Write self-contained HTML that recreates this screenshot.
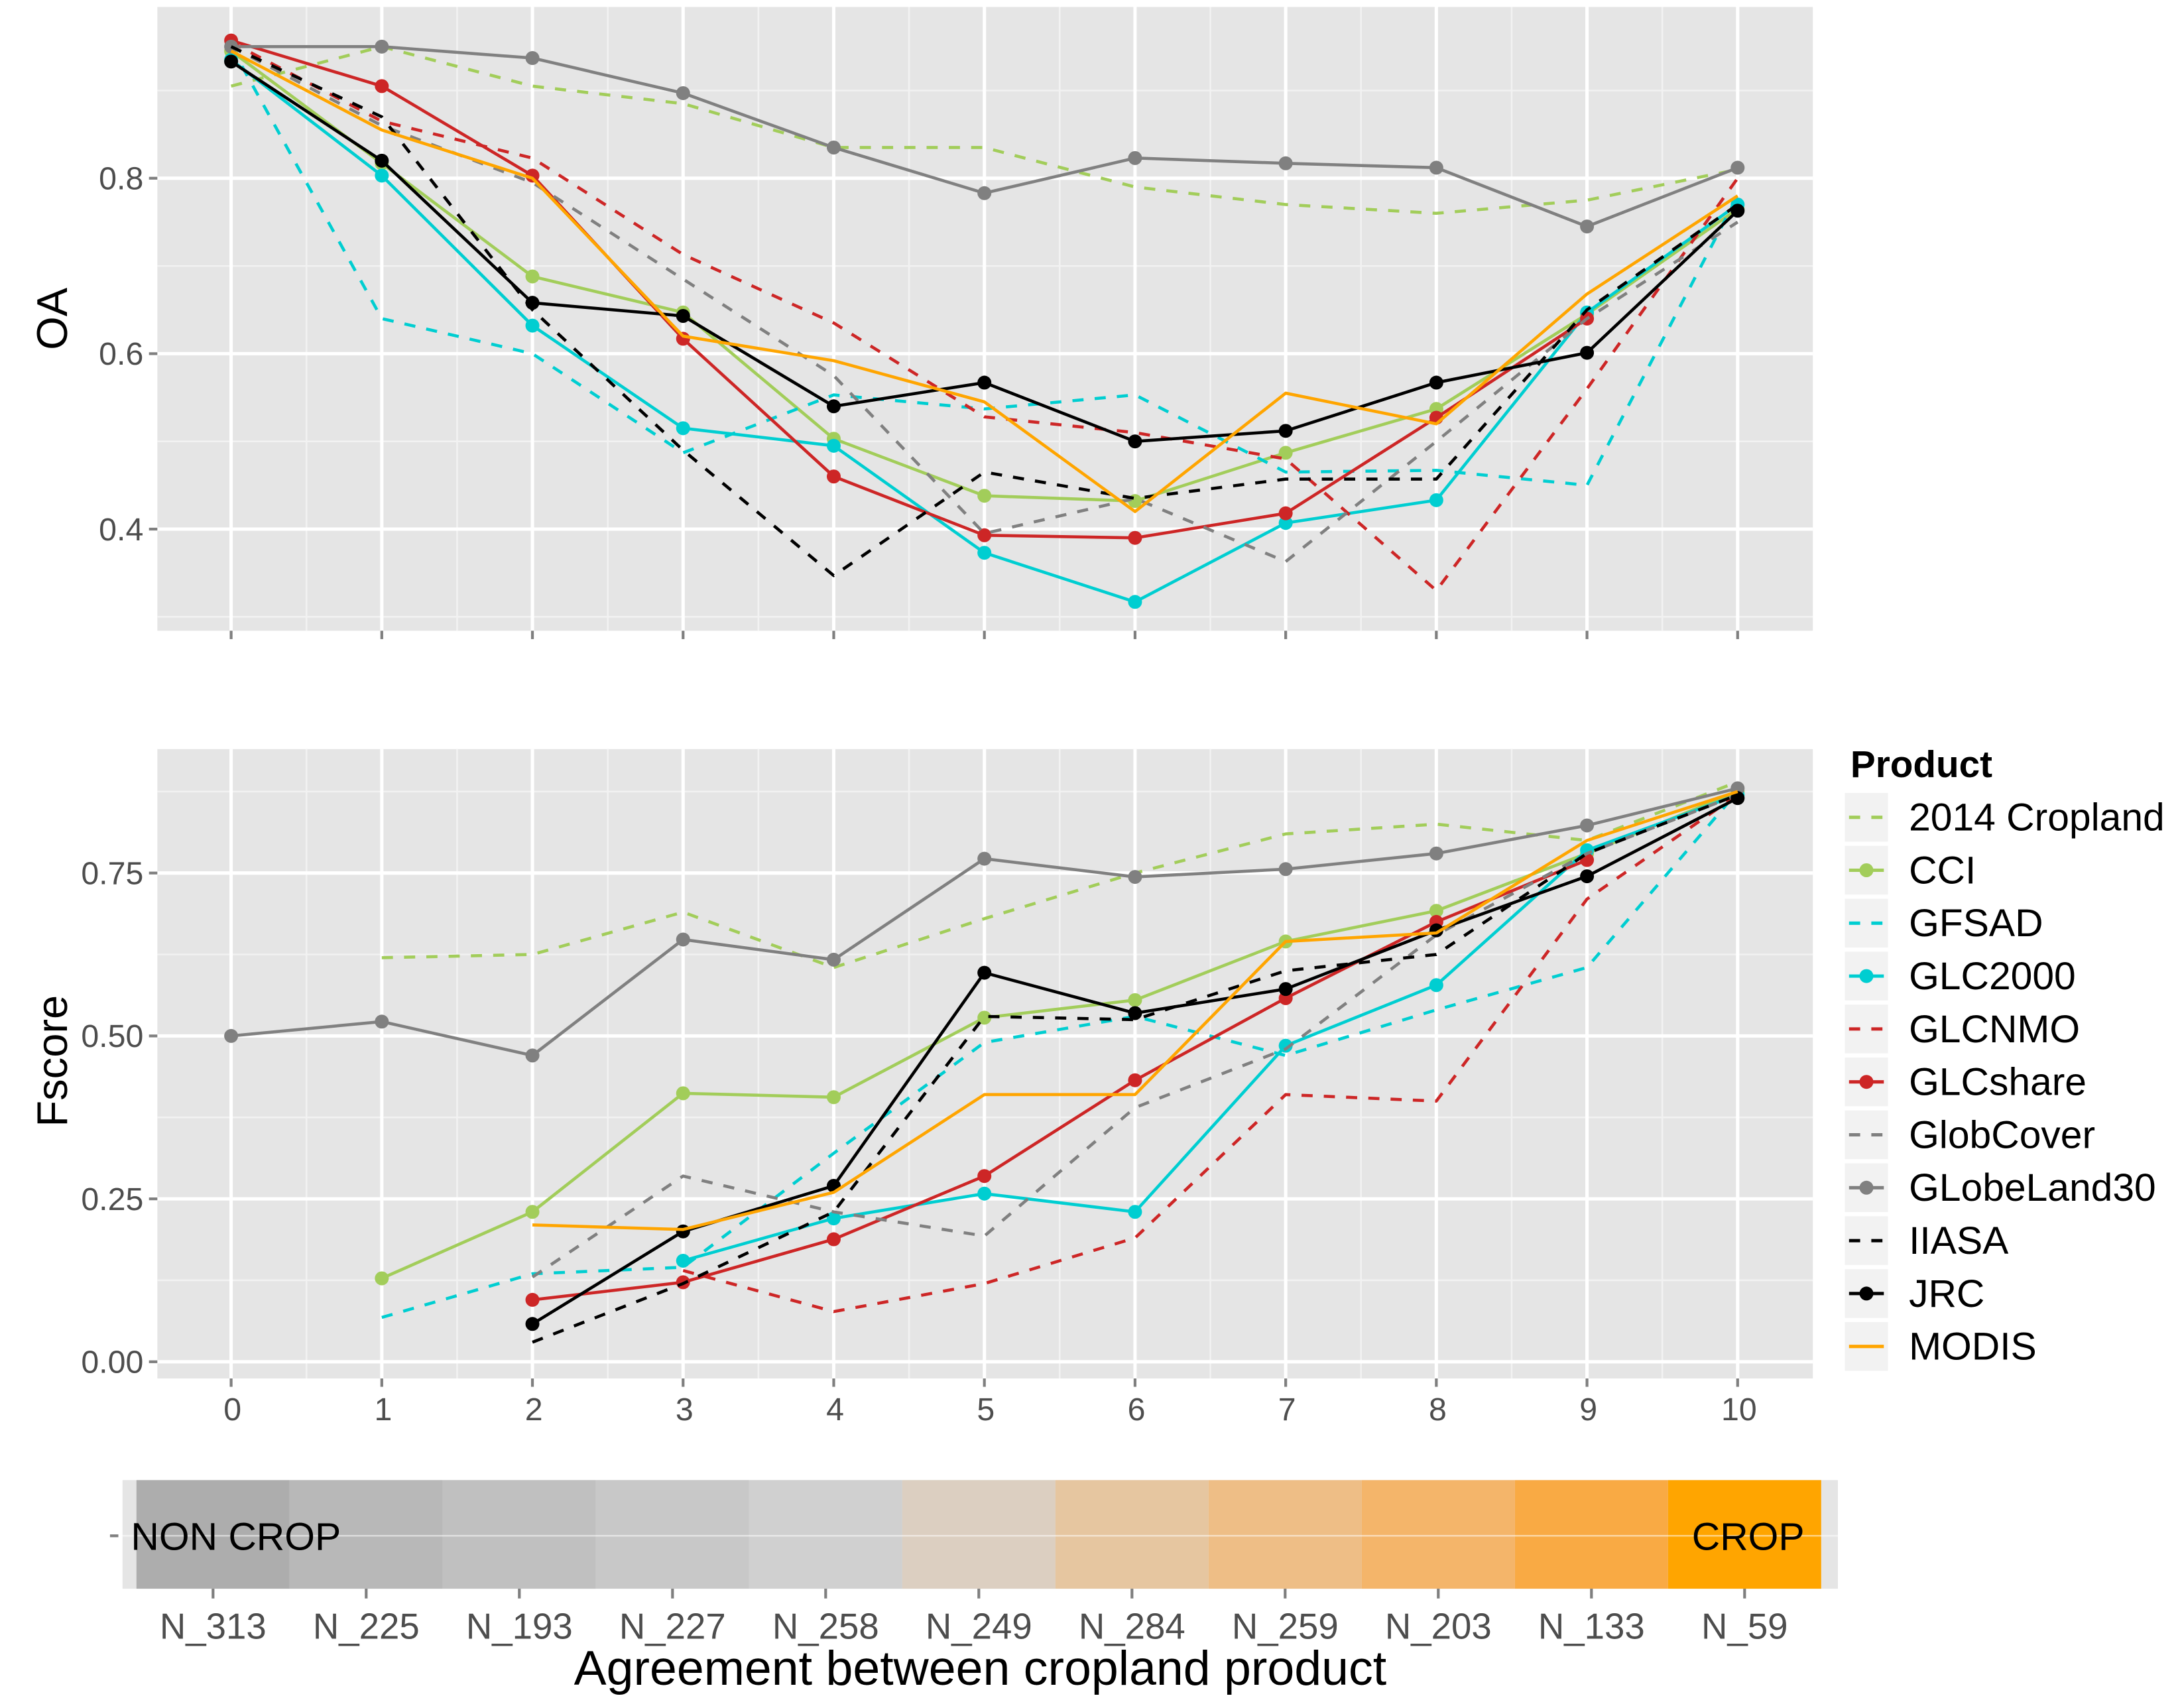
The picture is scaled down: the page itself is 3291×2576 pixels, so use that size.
<!DOCTYPE html>
<html><head><meta charset="utf-8"><style>
html,body{margin:0;padding:0;background:#fff}
svg{display:block}
text{font-family:"Liberation Sans",Arial,sans-serif}
</style></head><body>
<svg id="chart" width="3291" height="2576" viewBox="0 0 1567.14 1226.67" xmlns="http://www.w3.org/2000/svg">
<g id="root"></g>
</svg>
<script>
const xCats=[0,1,2,3,4,5,6,7,8,9,10];
const products=["2014 Cropland","CCI","GFSAD","GLC2000","GLCNMO","GLCshare","GlobCover","GLobeLand30","IIASA","JRC","MODIS"];
const colors=["#A2CD5A","#A2CD5A","#00CED1","#00CED1","#CD2626","#CD2626","#808080","#808080","#000000","#000000","#FFA500"];
const dashed=[true,false,true,false,true,false,true,false,true,false,false];
const hasPoints=[false,true,false,true,false,true,false,true,false,true,false];
const oa2014=[0.905,0.95,0.905,0.885,0.835,0.835,0.79,0.77,0.76,0.775,0.81];
const oaCCI=[0.945,0.817,0.688,0.647,0.503,0.438,0.432,0.487,0.537,0.645,0.765];
const oaGFSAD=[0.95,0.64,0.6,0.487,0.553,0.537,0.553,0.465,0.467,0.45,0.78];
const oaGLC2000=[0.935,0.803,0.632,0.515,0.495,0.373,0.317,0.407,0.433,0.647,0.77];
const oaGLCNMO=[0.955,0.865,0.823,0.713,0.635,0.528,0.51,0.48,0.33,0.56,0.8];
const oaGLCshare=[0.957,0.905,0.803,0.617,0.46,0.393,0.39,0.418,0.527,0.64,null];
const oaGlobCover=[0.95,0.86,0.795,0.685,0.575,0.395,0.435,0.363,0.5,0.64,0.75];
const oaGLobeLand30=[0.95,0.95,0.937,0.897,0.835,0.783,0.823,0.817,0.812,0.745,0.812];
const oaIIASA=[0.95,0.87,0.65,0.49,0.347,0.465,0.435,0.457,0.457,0.65,0.77];
const oaJRC=[0.933,0.82,0.658,0.643,0.54,0.567,0.5,0.512,0.567,0.601,0.763];
const oaMODIS=[0.945,0.855,0.8,0.62,0.592,0.545,0.42,0.555,0.52,0.668,0.78];
const fs2014=[null,0.62,0.625,0.69,0.605,0.68,0.75,0.81,0.825,0.8,0.89];
const fsCCI=[null,0.128,0.23,0.412,0.406,0.528,0.555,0.645,0.692,0.78,0.875];
const fsGFSAD=[null,0.068,0.135,0.145,0.32,0.49,0.53,0.47,0.54,0.605,0.875];
const fsGLC2000=[null,null,null,0.155,0.22,0.258,0.23,0.485,0.578,0.785,0.87];
const fsGLCNMO=[null,null,null,0.14,0.077,0.12,0.19,0.41,0.4,0.71,0.87];
const fsGLCshare=[null,null,0.095,0.122,0.188,0.285,0.432,0.558,0.675,0.77,null];
const fsGlobCover=[null,null,0.13,0.285,0.23,0.193,0.39,0.48,0.655,0.78,0.87];
const fsGLobeLand30=[0.5,0.522,0.47,0.648,0.617,0.772,0.744,0.756,0.78,0.823,0.88];
const fsIIASA=[null,null,0.03,0.12,0.23,0.53,0.525,0.6,0.625,0.78,0.87];
const fsJRC=[null,null,0.058,0.2,0.27,0.597,0.535,0.572,0.662,0.745,0.865];
const fsMODIS=[null,null,0.21,0.203,0.26,0.41,0.41,0.645,0.658,0.8,0.875];
const oaTicks=[0.4,0.6,0.8];
const oaTickLabels=["0.4","0.6","0.8"];
const fsTicks=[0,0.25,0.5,0.75];
const fsTickLabels=["0.00","0.25","0.50","0.75"];
const nLabels=["N_313","N_225","N_193","N_227","N_258","N_249","N_284","N_259","N_203","N_133","N_59"];
const tileColors=["#ADADAD","#B8B8B8","#C0C0C0","#C8C8C8","#D0D0D0","#DCCFC1","#E6C6A0","#EEBE86","#F4B56A","#F9AA44","#FFA500"];

const oaSeries=[oa2014,oaCCI,oaGFSAD,oaGLC2000,oaGLCNMO,oaGLCshare,oaGlobCover,oaGLobeLand30,oaIIASA,oaJRC,oaMODIS];
const fsSeries=[fs2014,fsCCI,fsGFSAD,fsGLC2000,fsGLCNMO,fsGLCshare,fsGlobCover,fsGLobeLand30,fsIIASA,fsJRC,fsMODIS];

const NS="http://www.w3.org/2000/svg";
const root=document.getElementById('root');
function mk(tag,attrs,parent,txt){const e=document.createElementNS(NS,tag);for(const k in attrs)e.setAttribute(k,attrs[k]);if(txt!==undefined)e.textContent=txt;(parent||root).appendChild(e);return e;}
const xs=v=>166+v*108.2;
const yOA=v=>128-(v-0.8)*630;
const yFS=v=>978-v*468;

function panel(name,top,bot,ys,ticks,labels,minor,series){
  const g=mk('g',{});
  
  
  mk('rect',{x:113,y:top,width:1189,height:bot-top,fill:'#E5E5E5'},g);
  minor.forEach(v=>mk('line',{x1:113,x2:1302,y1:ys(v),y2:ys(v),stroke:'#F2F2F2','stroke-width':1.2},g));
  for(let i=0;i<10;i++){const xm=xs(i+0.5);mk('line',{x1:xm,x2:xm,y1:top,y2:bot,stroke:'#F2F2F2','stroke-width':1.2},g);}
  ticks.forEach((v,i)=>{
    mk('line',{x1:113,x2:1302,y1:ys(v),y2:ys(v),stroke:'#fff','stroke-width':2.4},g);
    mk('line',{x1:107,x2:113,y1:ys(v),y2:ys(v),stroke:'#7f7f7f','stroke-width':2},g);
    const t=mk('text',{x:103,y:ys(v)+8,'text-anchor':'end','font-size':23,fill:'#4D4D4D'},g,labels[i]);
    
    
  });
  xCats.forEach(c=>{
    mk('line',{x1:xs(c),x2:xs(c),y1:top,y2:bot,stroke:'#fff','stroke-width':2.4},g);
    mk('line',{x1:xs(c),x2:xs(c),y1:bot,y2:bot+6,stroke:'#7f7f7f','stroke-width':2},g);
  });
  series.forEach((s,k)=>{
    const sg=mk('g',{},g);
    
    
    let d='';let pen=false;
    s.forEach((v,i)=>{if(v===null){pen=false;return;}d+=(pen?'L':'M')+xs(xCats[i])+','+ys(v);pen=true;});
    const p=mk('path',{d:d,fill:'none',stroke:colors[k],'stroke-width':2.2,'stroke-linejoin':'round'},sg);
    if(dashed[k])p.setAttribute('stroke-dasharray','8,8');
    if(hasPoints[k]) s.forEach((v,i)=>{if(v!==null){const c=mk('circle',{cx:xs(xCats[i]),cy:ys(v),r:5,fill:colors[k]},sg);
      
      }});
  });
}
panel('oa',5,453,yOA,oaTicks,oaTickLabels,[0.3,0.5,0.7,0.9],oaSeries);
panel('fscore',538,990,yFS,fsTicks,fsTickLabels,[0.125,0.375,0.625,0.875],fsSeries);

xCats.forEach(c=>{const t=mk('text',{x:xs(c)+1,y:1020,'text-anchor':'middle','font-size':23,fill:'#4D4D4D'},root,String(c));
  
  });

let t=mk('text',{x:0,y:0,'font-size':31,fill:'#000',transform:'translate(48,229) rotate(-90)','text-anchor':'middle'},root,'OA');

t=mk('text',{x:0,y:0,'font-size':31,fill:'#000',transform:'translate(48,762) rotate(-90)','text-anchor':'middle'},root,'Fscore');


// legend
const lg=mk('g',{});


mk('text',{x:1329,y:558,'font-size':27,'font-weight':'bold',fill:'#000'},lg,'Product');
products.forEach((p,k)=>{
  const y0=569.5+k*38;
  const eg=mk('g',{},lg);
  
  
  mk('rect',{x:1325,y:y0,width:31,height:35,fill:'#F2F2F2'},eg);
  const ln=mk('line',{x1:1328,x2:1353,y1:y0+17.5,y2:y0+17.5,stroke:colors[k],'stroke-width':2.4},eg);
  if(dashed[k])ln.setAttribute('stroke-dasharray','8,8');
  if(hasPoints[k]) mk('circle',{cx:1340.5,cy:y0+17.5,r:5,fill:colors[k]},eg);
  mk('text',{x:1371,y:y0+27,'font-size':28,fill:'#000'},eg,p);
});

// bottom strip
const bg=mk('g',{});


mk('rect',{x:88,y:1063,width:1232,height:78,fill:'#E5E5E5'},bg);
tileColors.forEach((c,i)=>{
  const r=mk('rect',{x:98+i*110,y:1063,width:110,height:78,fill:c},bg);
  
  
  mk('line',{x1:153+i*110,x2:153+i*110,y1:1141,y2:1148,stroke:'#7f7f7f','stroke-width':2},bg);
  const tl=mk('text',{x:153+i*110,y:1177,'text-anchor':'middle','font-size':26,fill:'#4D4D4D'},bg,nLabels[i]);
  
  
});
mk('line',{x1:88,x2:1320,y1:1103,y2:1103,stroke:'#fff','stroke-width':1.2,'stroke-opacity':0.5},bg);
mk('line',{x1:79,x2:85,y1:1103,y2:1103,stroke:'#7f7f7f','stroke-width':2},bg);
mk('text',{x:94,y:1113,'font-size':28,fill:'#000'},bg,'NON CROP');
mk('text',{x:1296,y:1113,'font-size':28,fill:'#000','text-anchor':'end'},bg,'CROP');
t=mk('text',{x:704,y:1210,'font-size':35,fill:'#000','text-anchor':'middle'},root,'Agreement between cropland product');

</script>
</body></html>
